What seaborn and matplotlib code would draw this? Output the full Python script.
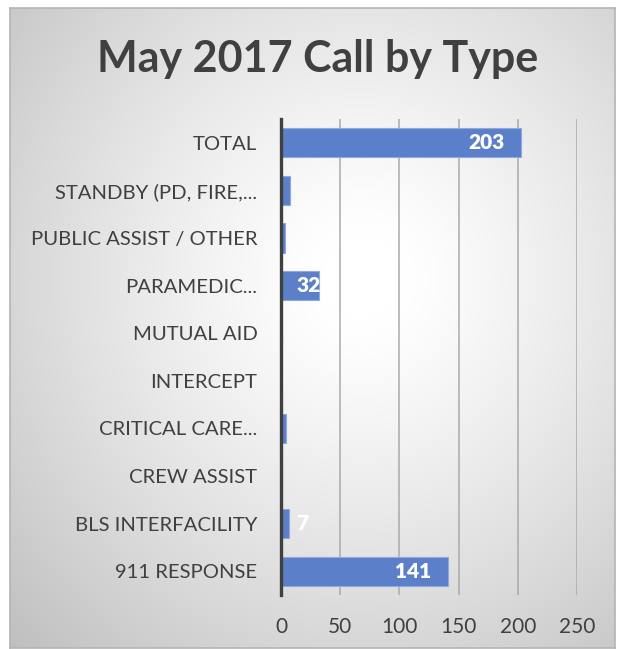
import numpy as np
import pandas as pd
import matplotlib
matplotlib.use("Agg")
import matplotlib.pyplot as plt
import seaborn as sns

categories = ["TOTAL", "STANDBY (PD, FIRE,...", "PUBLIC ASSIST / OTHER", "PARAMEDIC...",
              "MUTUAL AID", "INTERCEPT", "CRITICAL CARE...", "CREW ASSIST",
              "BLS INTERFACILITY", "911 RESPONSE"]
values = [203, 8, 3, 32, 1, 0, 4, 1, 7, 141]
shown_labels = [203, None, None, 32, None, None, None, None, 7, 141]
xticks = [0, 50, 100, 150, 200, 250]
title = "May 2017 Call by Type"

sns.set_theme(style="white")
plt.rcParams['font.family'] = ['Lato', 'DejaVu Sans']

W, H = 618, 649
fig = plt.figure(figsize=(W / 100, H / 100), dpi=100)
fig.patch.set_facecolor("white")

# background panel with radial gradient
bg = fig.add_axes([10 / W, 1 - 648 / H, 605 / W, 640 / H])
ny, nx = 320, 300
yy, xx = np.mgrid[0:ny, 0:nx]
cx, cy = 0.58 * nx, 0.42 * ny
r = np.sqrt(((xx - cx) / nx) ** 2 + ((yy - cy) / ny) ** 2)
r = r / r.max()
val = 1.0 - 0.25 * np.clip((r - 0.08) / 0.92, 0, 1) ** 1.2
img = np.dstack([val, val, val])
bg.imshow(img, aspect="auto", extent=[0, 1, 0, 1], interpolation="bilinear")
bg.set_xlim(0, 1); bg.set_ylim(0, 1)
bg.set_xticks([]); bg.set_yticks([])
for s in bg.spines.values():
    s.set_color("#b4b4b4"); s.set_linewidth(1.2)

fig.text(0.5 + 9 / W, 1 - 59 / H, title, ha="center", va="center",
         fontsize=31, fontweight="bold", color="#404040")

ax = fig.add_axes([281 / W, 1 - 595 / H, (577 - 281) / W, (595 - 119) / H])
ax.patch.set_alpha(0)
df = pd.DataFrame({"cat": categories, "val": values})
sns.barplot(data=df, x="val", y="cat", orient="h", color="#5b80c9", saturation=1,
            width=0.61, ax=ax, edgecolor="#8fa9dc", linewidth=0.8, zorder=3)
ax.set_xlim(0, 250)
ax.set_xticks(xticks)
ax.set_xticklabels([str(t) for t in xticks])
ax.set_xlabel(""); ax.set_ylabel("")
ax.grid(axis="x", color="#aaaaaa", linewidth=1.1, zorder=0)
ax.set_axisbelow(True)
for k in ["top", "right", "bottom"]:
    ax.spines[k].set_visible(False)
ax.spines["left"].set_color("#404040")
ax.spines["left"].set_linewidth(2.4)
ax.spines["left"].set_zorder(5)
ax.tick_params(axis="x", length=0, pad=16, labelsize=15, labelcolor="#404040")
ax.tick_params(axis="y", length=0, pad=17, labelsize=14.6, labelcolor="#404040")

px_per_unit = (577 - 281) / 250
for i, lab in enumerate(shown_labels):
    if lab is None:
        continue
    v = values[i]
    if v * px_per_unit > 60:
        ax.annotate(str(lab), xy=(v, i), xytext=(-12, 0), textcoords="offset points",
                    ha="right", va="center", color="white", fontsize=15,
                    fontweight="heavy", zorder=6)
    else:
        ax.annotate(str(lab), xy=(0, i), xytext=(11, 0), textcoords="offset points",
                    ha="left", va="center", color="white", fontsize=15,
                    fontweight="heavy", zorder=6)

fig.savefig("out.png", dpi=100)
